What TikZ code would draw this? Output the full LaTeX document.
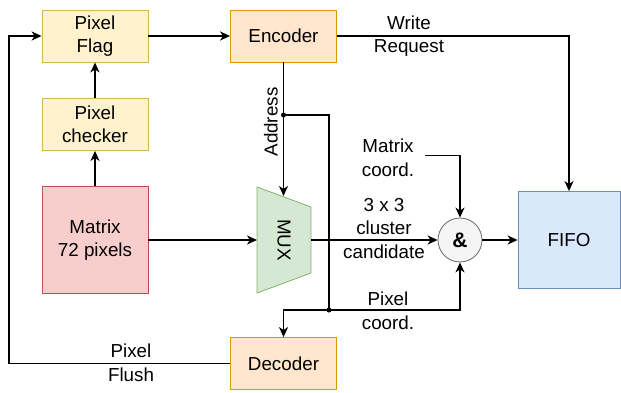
\documentclass[tikz,border=0pt]{standalone}
\usepackage{fontspec}
\setmainfont{Liberation Sans}
\usetikzlibrary{arrows.meta}
\definecolor{yfill}{HTML}{FFF2CC}\definecolor{ystroke}{HTML}{D6B656}
\definecolor{ofill}{HTML}{FFE6CC}\definecolor{ostroke}{HTML}{D79B00}
\definecolor{rfill}{HTML}{F8CECC}\definecolor{rstroke}{HTML}{B85450}
\definecolor{gfill}{HTML}{D5E8D4}\definecolor{gstroke}{HTML}{82B366}
\definecolor{bfill}{HTML}{DAE8FC}\definecolor{bstroke}{HTML}{6C8EBF}
\definecolor{cfill}{HTML}{F5F5F5}\definecolor{cstroke}{HTML}{666666}
\begin{document}
\begin{tikzpicture}[x=1pt,y=-1pt,
  txt/.style={font=\fontsize{18.8}{23.5}\selectfont, align=center, inner sep=0pt},
  box/.style={txt, draw, line width=0.8pt, minimum width=106pt, minimum height=52pt},
  ybox/.style={box, fill=yfill, draw=ystroke},
  obox/.style={box, fill=ofill, draw=ostroke},
  wire/.style={line width=1.6pt},
  arr/.style={wire, -{Stealth[length=10pt,width=9pt,inset=3pt]}},
  dot/.style={circle, fill=black, inner sep=0pt, minimum size=5pt}]
\useasboundingbox (0,0) rectangle (621,393);
\node[ybox] (flag) at (95,36) {Pixel\\Flag};
\node[ybox] (checker) at (95,124.5) {Pixel\\checker};
\node[box, fill=rfill, draw=rstroke, minimum height=107pt] (matrix) at (95,240) {Matrix\\72 pixels};
\node[obox] (enc) at (283.5,36) {Encoder};
\node[obox] (dec) at (283.5,363.5) {Decoder};
\node[box, fill=bfill, draw=bstroke, minimum width=102pt, minimum height=97pt] (fifo) at (569,240) {FIFO};
\node[circle, draw=cstroke, fill=cfill, line width=0.8pt, minimum size=44pt, inner sep=0pt, font=\fontsize{21}{24}\selectfont\bfseries] (and) at (460,240) {\&};
\draw[fill=gfill, draw=gstroke, line width=0.8pt] (257,187) -- (311,207) -- (311,273) -- (257,293) -- cycle;
\node[txt, rotate=-90] (mux) at (284,240) {MUX};
\coordinate (muxin) at (257,240);
\coordinate (muxout) at (311,240);
\coordinate (muxtop) at (283.5,196);
\node[dot] (jA) at (283.5,115) {};
\node[dot] (jB) at (329,310) {};
\coordinate (jAr) at (329,115);
\coordinate (jBl) at (283.5,310);
\coordinate (mc) at (425,155.5);
\coordinate (fl) at (9,363.5);
% connectors
\draw[arr] (checker) -- (flag);
\draw[arr] (matrix) -- (checker);
\draw[arr] (flag) -- (enc);
\draw[arr] (matrix.east) -- (muxin);
\draw[arr] (muxout) -- (and);
\draw[arr] (and) -- (fifo);
\draw[arr] (enc.south) -- (muxtop);
\draw[wire] (jA.center) -- (jAr) -- (jB.center);
\draw[arr] (jB.center) -- (jBl) -- (dec.north);
\draw[arr] (jB.center) -| (and.south);
\draw[arr] (mc) -| (and.north);
\draw[arr] (enc.east) -| (fifo.north);
\draw[arr] (dec.west) -- (fl) |- (flag.west);
% labels
\node[txt] (lwr) at (409,36) {Write\\Request};
\node[txt] (lpf) at (131,363) {Pixel\\Flush};
\node[txt, rotate=90] (laddr) at (271,122) {Address};
\node[txt] (lmc) at (388,158) {Matrix\\coord.};
\node[txt] (lcl) at (384,228.5) {3 x 3\\cluster\\candidate};
\node[txt] (lpc) at (388,311) {Pixel\\coord.};
\end{tikzpicture}
\end{document}
